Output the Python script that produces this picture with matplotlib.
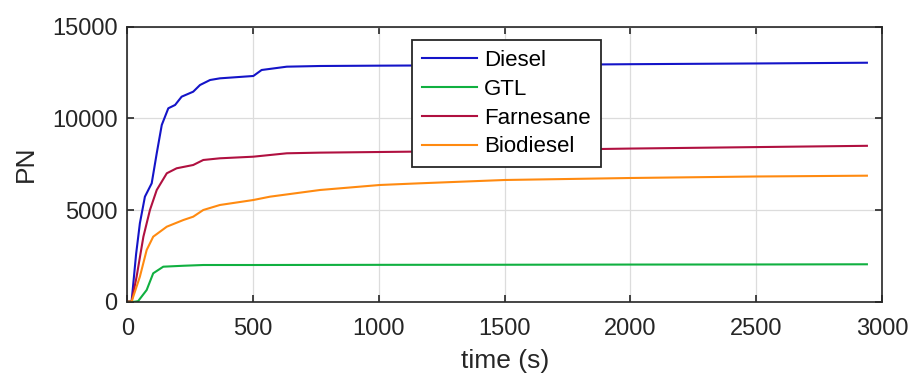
import matplotlib
matplotlib.use("Agg")
import matplotlib.pyplot as plt

plt.rcParams['font.family'] = ['Liberation Sans', 'DejaVu Sans']

# ---- data ----
diesel_t = [0, 17, 35, 50, 70, 97, 117, 137, 163, 190, 216, 262, 289, 329, 368, 501, 534, 634, 766, 1000, 1500, 2000, 2500, 2940]
diesel_pn = [0, 0, 2600, 4275, 5726, 6456, 8092, 9636, 10546, 10727, 11179, 11451, 11815, 12088, 12179, 12307, 12634, 12815, 12852, 12870, 12900, 12950, 12990, 13030]

gtl_t = [0, 30, 43, 77, 103, 143, 223, 302, 501, 1000, 1500, 2000, 2500, 2940]
gtl_pn = [0, 0, 30, 638, 1549, 1909, 1960, 2001, 2001, 2010, 2015, 2025, 2030, 2040]

farn_t = [0, 17, 37, 64, 90, 117, 157, 196, 262, 302, 368, 501, 634, 766, 1124, 1500, 2000, 2500, 2940]
farn_pn = [0, 0, 1363, 3545, 5000, 6091, 7002, 7274, 7454, 7727, 7819, 7907, 8092, 8128, 8180, 8250, 8350, 8430, 8500]

bio_t = [0, 17, 50, 77, 103, 157, 223, 262, 302, 368, 501, 567, 766, 1004, 1163, 1500, 2000, 2500, 2940]
bio_pn = [0, 0, 1363, 2819, 3545, 4090, 4455, 4635, 5000, 5273, 5545, 5726, 6091, 6364, 6456, 6636, 6745, 6827, 6871]

labels = ['Diesel', 'GTL', 'Farnesane', 'Biodiesel']
colors = ['#1414c8', '#10b040', '#b01040', '#ff8a10']

xticks = [0, 500, 1000, 1500, 2000, 2500, 3000]
yticks = [0, 5000, 10000, 15000]

fig = plt.figure(figsize=(9.12, 3.82), dpi=100)
ax = fig.add_axes([127.3/912, 1-301.7/382, (882-127.3)/912, (301.7-26.6)/382])

series = [(diesel_t, diesel_pn), (gtl_t, gtl_pn), (farn_t, farn_pn), (bio_t, bio_pn)]
for (t, v), lab, c in zip(series, labels, colors):
    ax.plot(t, v, color=c, lw=1.5, label=lab)

ax.set_xlim(0, 3000)
ax.set_ylim(0, 15000)
ax.set_xticks(xticks)
ax.set_yticks(yticks)
ax.grid(True, color='#dcdcdc', lw=0.9)
ax.set_axisbelow(True)
for s in ax.spines.values():
    s.set_linewidth(1.2)
    s.set_color('#262626')
ax.tick_params(direction='in', top=True, right=True, length=5, width=1.2,
               color='#262626', labelsize=17, labelcolor='#262626')
ax.tick_params(axis='x', pad=12)
ax.tick_params(axis='y', pad=7)
ax.set_xlabel('time (s)', fontsize=19, color='#262626', labelpad=6)
ax.set_ylabel('PN', fontsize=19, color='#262626', labelpad=10)

leg = ax.legend(loc='upper left', bbox_to_anchor=(411.7/912, 1-40/382),
                bbox_transform=fig.transFigure, borderaxespad=0,
                fontsize=16, handlelength=2.5, handletextpad=0.3,
                labelspacing=0.35, borderpad=0.45, fancybox=False, framealpha=1)
leg.get_frame().set_edgecolor('#262626')
leg.get_frame().set_linewidth(1.3)

fig.savefig('out.png', dpi=100)
